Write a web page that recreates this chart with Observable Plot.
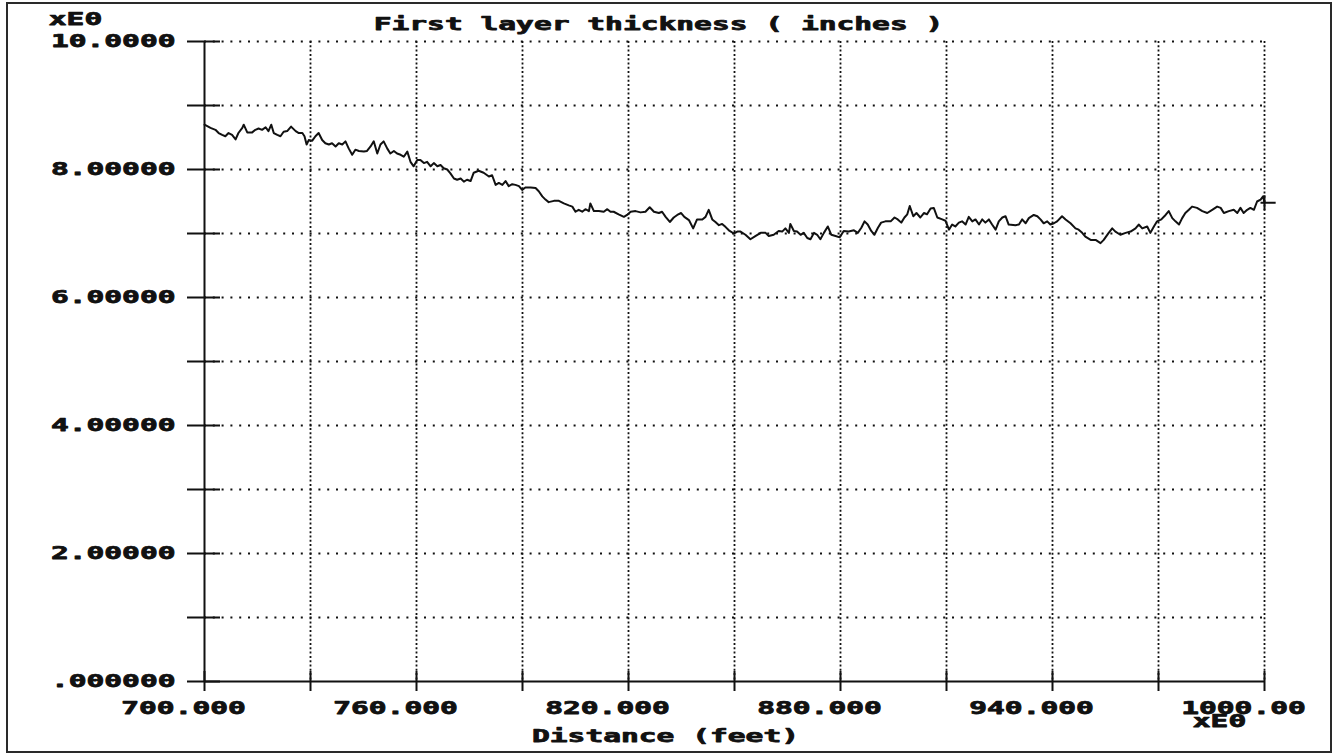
<!DOCTYPE html>
<html>
<head>
<meta charset="utf-8">
<script src="https://cdn.jsdelivr.net/npm/d3@7"></script>
<script src="https://cdn.jsdelivr.net/npm/@observablehq/plot@0.6"></script>
<style>
  html, body { margin: 0; padding: 0; background: #fff; }
  #wrap { position: relative; width: 1334px; height: 754px; overflow: hidden; background: #fff; }
  #border { position: absolute; left: 6px; top: 2px; width: 1326px; height: 751px; box-sizing: border-box;
            border: 2px solid #2a2a2a; pointer-events: none; }
</style>
</head>
<body>
<div id="wrap"><div id="border"></div></div>
<script>
// ---- data ----
const distance = [
  700, 701.7, 703.1, 704.0, 705.0, 705.9, 706.8, 707.8, 708.8, 709.6,
  710.7, 711.1, 712.1, 713.5, 714.4, 715.3, 716.3, 717.3, 718.1, 718.9,
  719.6, 720.6, 721.5, 722.4, 723.4, 724.5, 725.8, 726.7, 727.7, 728.3,
  728.9, 729.5, 730.5, 731.4, 732.3, 733.3, 734.2, 735.2, 736.1, 737.1,
  738.0, 739.0, 739.9, 740.8, 741.8, 742.7, 743.7, 745.1, 746.0, 747.0,
  747.9, 748.9, 749.8, 750.7, 751.7, 752.6, 753.6, 754.5, 755.5, 756.4,
  757.4, 758.3, 759.2, 760.2, 761.1, 762.1, 763.0, 764.0, 764.9, 765.9,
  766.8, 767.7, 768.7, 769.6, 770.6, 771.5, 772.5, 773.4, 774.3,
  775.3, 776.2, 777.6, 779.0, 780.5, 781.4, 782.4, 783.3, 784.3, 785.2,
  786.1, 787.1, 788.0, 789.0, 789.9, 790.8, 792.3, 793.7, 794.6, 795.6,
  796.5, 797.4, 798.9, 800.3, 801.7, 803.1, 804.1, 805.0, 805.9, 806.9,
  807.8, 808.8, 809.2, 810.2, 811.6, 813.0, 814.0, 814.9, 815.8, 817.2,
  818.7, 819.6, 820.6, 822.0, 823.4, 824.8, 826.0, 827.2, 828.6, 829.5,
  830.5, 831.7, 832.8, 833.8, 834.9, 835.8, 837.1, 838.3, 839.4, 840.9,
  841.8, 842.7, 843.7, 844.6, 845.6, 846.5, 847.5, 848.4, 849.8, 850.8,
  851.7, 853.1, 854.5, 855.9, 857.4, 858.8, 859.7, 861.1, 862.5, 863.5,
  864.4, 865.4, 865.8, 866.8, 867.7, 868.7, 869.6, 870.6, 871.5, 872.5,
  873.4, 874.3, 875.3, 876.4, 877.4, 878.6, 879.8, 880.9, 882.3, 883.8,
  884.9, 885.9, 886.8, 887.7, 888.7, 889.6, 890.6, 891.5, 892.7, 894.2,
  895.3, 896.2, 897.2, 898.1, 898.9, 899.6, 900.6, 901.5, 902.6, 903.6,
  904.5, 905.5, 906.4, 907.4, 908.8, 909.7, 910.7, 911.6, 912.5, 913.5,
  914.4, 915.4, 916.3, 917.3, 918.2, 919.2, 920.1, 921.0, 922.0, 922.9,
  923.9, 924.8, 925.8, 926.7, 927.6,
  929.5, 930.5, 931.4, 932.4, 933.3, 934.7, 935.7, 936.6, 937.5, 938.5,
  939.4, 940.4, 941.3, 942.7, 943.7, 945.1, 946.5, 947.4, 948.4, 949.3,
  950.8, 952.2, 953.6, 954.5, 955.9, 956.9, 957.8, 959.2, 960.7, 962.1,
  963.5, 964.4, 965.4, 966.8, 967.7, 968.7, 969.6, 970.8, 972.0, 972.9,
  973.9, 974.8, 975.8, 976.7, 977.6, 978.6, 979.5, 980.9, 982.4, 983.8,
  985.2, 986.6, 987.6, 988.5, 989.9, 991.3, 992.3, 993.2, 994.1, 995.1,
  996.0, 997.0, 997.9, 998.9, 999.6, 1000
];
const thickness = [
  8.70, 8.65, 8.62, 8.57, 8.54, 8.52, 8.57, 8.54, 8.47, 8.57,
  8.65, 8.70, 8.58, 8.58, 8.62, 8.64, 8.62, 8.66, 8.60, 8.70,
  8.57, 8.54, 8.52, 8.59, 8.60, 8.67, 8.60, 8.57, 8.57, 8.52,
  8.39, 8.46, 8.45, 8.52, 8.57, 8.46, 8.41, 8.39, 8.41, 8.36,
  8.41, 8.39, 8.44, 8.33, 8.23, 8.31, 8.29, 8.28, 8.29, 8.36,
  8.44, 8.25, 8.39, 8.44, 8.33, 8.25, 8.29, 8.25, 8.23, 8.20,
  8.28, 8.12, 8.05, 8.15, 8.15, 8.10, 8.12, 8.05, 8.10, 8.05,
  8.07, 8.02, 8.00, 7.94, 7.86, 7.84, 7.86, 7.81, 7.84,
  7.82, 7.95, 7.98, 7.95, 7.89, 7.91, 7.76, 7.79, 7.76, 7.82,
  7.74, 7.77, 7.76, 7.74, 7.68, 7.72, 7.72, 7.71, 7.66, 7.58,
  7.53, 7.49, 7.51, 7.51, 7.47, 7.44, 7.42, 7.34, 7.37, 7.34,
  7.38, 7.35, 7.47, 7.35, 7.35, 7.34, 7.38, 7.34, 7.34, 7.30,
  7.26, 7.29, 7.34, 7.35, 7.33, 7.34, 7.41, 7.34, 7.32, 7.34,
  7.26, 7.18, 7.25, 7.29, 7.32, 7.26, 7.21, 7.08, 7.22, 7.22,
  7.26, 7.37, 7.22, 7.18, 7.13, 7.15, 7.10, 7.05, 7.00, 7.03,
  7.03, 6.98, 6.91, 6.96, 7.01, 7.01, 6.96, 6.98, 7.04, 7.03,
  7.08, 7.01, 7.15, 7.04, 7.03, 6.98, 7.01, 6.93, 6.91, 7.01,
  6.98, 6.91, 7.01, 7.11, 6.98, 6.96, 6.94, 7.04, 7.03, 7.05,
  7.01, 7.09, 7.19, 7.14, 7.04, 6.98, 7.09, 7.17, 7.19, 7.19,
  7.25, 7.22, 7.17, 7.25, 7.30, 7.43, 7.27, 7.32, 7.25, 7.32,
  7.30, 7.39, 7.40, 7.25, 7.22, 7.20, 7.06, 7.14, 7.11, 7.17,
  7.19, 7.14, 7.26, 7.19, 7.22, 7.14, 7.22, 7.17, 7.22, 7.14,
  7.06, 7.19, 7.25, 7.27, 7.14,
  7.13, 7.14, 7.22, 7.16, 7.24, 7.29, 7.27, 7.22, 7.16, 7.19,
  7.14, 7.16, 7.19, 7.27, 7.22, 7.16, 7.08, 7.06, 7.01, 6.95,
  6.90, 6.90, 6.85, 6.90, 7.01, 7.08, 7.03, 6.98, 7.01, 7.03,
  7.08, 7.14, 7.08, 7.11, 7.01, 7.11, 7.19, 7.22, 7.29, 7.35,
  7.24, 7.19, 7.14, 7.24, 7.32, 7.37, 7.42, 7.40, 7.35, 7.32,
  7.37, 7.42, 7.40, 7.32, 7.35, 7.37, 7.32, 7.40, 7.32, 7.37,
  7.40, 7.37, 7.50, 7.53, 7.58, 7.48
];
const yTickValues = [0, 1, 2, 3, 4, 5, 6, 7, 8, 9, 10];
const yLabelValues = [0, 2, 4, 6, 8, 10];
const yTickLabels = [".000000", "2.00000", "4.00000", "6.00000", "8.00000", "10.0000"];
const xTickValues = [700, 730, 760, 790, 820, 850, 880, 910, 940, 970, 1000];
const xLabelValues = [700, 760, 820, 880, 940, 1000];
const xTickLabels = ["700.000", "760.000", "820.000", "880.000", "940.000", "1000.00"];
const yGridValues = [1, 2, 3, 4, 5, 6, 7, 8, 9, 10];
const xGridValues = [730, 760, 790, 820, 850, 880, 910, 940, 970, 1000];
const titleText = "First layer thickness ( inches )";
const xAxisTitle = "Distance (feet)";
const exponentLabel = "xE0";

const data = distance.map((d, i) => ({d, t: thickness[i]}));
const last = data[data.length - 1];

// end-of-trace "+" marker (stroked)
const plusSymbol = {
  draw(ctx, size) {
    const s = Math.sqrt(size);
    ctx.moveTo(-0.5 * s, 0); ctx.lineTo(1.4 * s, 0);
    ctx.moveTo(0, -0.95 * s); ctx.lineTo(0, 0.95 * s);
  }
};

const ink = "#111";
const textStyle = {fill: ink, stroke: ink, strokeWidth: 0.75, paintOrder: "fill"};

const chart = Plot.plot({
  width: 1334,
  height: 754,
  marginTop: 41,
  marginBottom: 73,
  marginLeft: 204,
  marginRight: 70,
  x: {domain: [700, 1000]},
  y: {domain: [0, 10]},
  style: {fontFamily: "'DejaVu Sans Mono', monospace", fontSize: "17px", fontWeight: "bold",
          background: "transparent", overflow: "visible", color: ink},
  marks: [
    Plot.gridY(yGridValues, {stroke: ink, strokeOpacity: 1, strokeWidth: 2, strokeDasharray: "2 6.8"}),
    Plot.gridX(xGridValues, {stroke: ink, strokeOpacity: 1, strokeWidth: 1.8, strokeDasharray: "2 2.3"}),
    Plot.ruleX([700], {stroke: ink, strokeWidth: 2}),
    Plot.ruleY([0], {stroke: ink, strokeWidth: 2}),
    Plot.axisY(yTickValues, {tickSize: 33, dx: 16, tickFormat: () => "", label: null, strokeWidth: 2, stroke: ink}),
    Plot.axisX(xTickValues, {tickSize: 20, dy: -10, tickFormat: () => "", label: null, strokeWidth: 2, stroke: ink}),
    Plot.text(yLabelValues, {y: d => d, text: (d, i) => yTickLabels[i], frameAnchor: "left",
      textAnchor: "end", lineAnchor: "middle", dx: -29, ...textStyle}),
    Plot.text(xLabelValues, {x: d => d, text: (d, i) => xTickLabels[i], frameAnchor: "bottom",
      textAnchor: "middle", lineAnchor: "middle", dx: -21, dy: 27.5, ...textStyle}),
    Plot.line(data, {x: "d", y: "t", stroke: ink, strokeWidth: 2, strokeLinejoin: "round"}),
    Plot.dot([last], {x: "d", y: "t", symbol: plusSymbol, r: 4.5, stroke: ink, fill: "none", strokeWidth: 2}),
    Plot.text([titleText], {text: d => d, frameAnchor: "top", textAnchor: "middle", lineAnchor: "middle",
      dx: -76, dy: -16.5, ...textStyle}),
    Plot.text([xAxisTitle], {text: d => d, frameAnchor: "bottom", textAnchor: "middle", lineAnchor: "middle",
      dx: -69, dy: 55.5, ...textStyle}),
    Plot.text([exponentLabel], {text: d => d, frameAnchor: "bottom-right", textAnchor: "middle", lineAnchor: "middle",
      dx: -45, dy: 40, ...textStyle}),
    Plot.text([exponentLabel], {text: d => d, frameAnchor: "top-left", textAnchor: "middle", lineAnchor: "middle",
      dx: -129, dy: -22, ...textStyle})
  ]
});

// stretch glyphs horizontally to mimic the wide bitmap font
chart.querySelectorAll("text").forEach(t => {
  const n = t.textContent.length;
  if (n > 0) {
    t.setAttribute("textLength", (n * 17.8).toFixed(1));
    t.setAttribute("lengthAdjust", "spacingAndGlyphs");
  }
});

document.getElementById("wrap").prepend(chart);
</script>
</body>
</html>
